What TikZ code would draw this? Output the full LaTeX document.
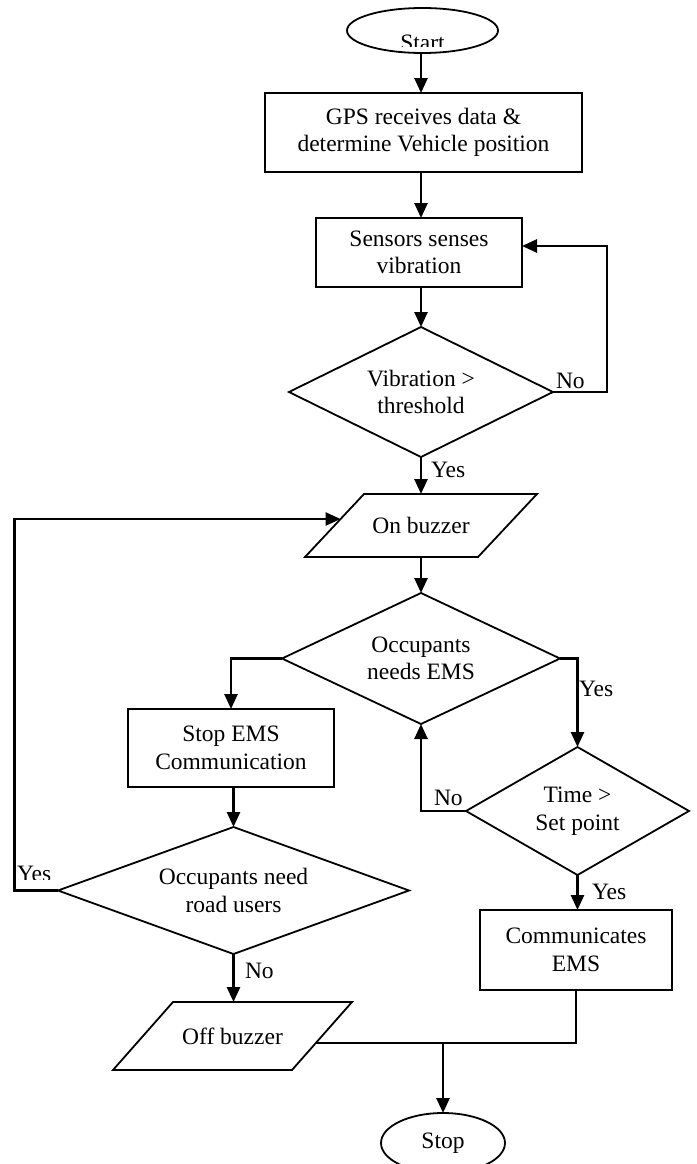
\documentclass[tikz,border=0pt]{standalone}
\usepackage{fontspec}
\setmainfont{Liberation Serif}
\usetikzlibrary{shapes.geometric,arrows.meta,calc}

\begin{document}
\begin{tikzpicture}[x=1pt,y=-1pt,
  every node/.style={font=\fontsize{23.5}{27.5}\selectfont, inner sep=0pt, outer sep=0pt},
  shp/.style={draw, line width=1.8pt, align=center},
  proc/.style={shp, rectangle},
  dec/.style={shp, diamond},
  term/.style={shp, ellipse},
  io/.style={rectangle, align=center},
  iofill/.style={line width=1.8pt, line join=miter},
  edge/.style={line width=1.8pt},
  arr/.style={line width=2.6pt, -{Triangle[length=15pt,width=13pt]}},
  lbl/.style={anchor=base west}
]
\clip (0,0) rectangle (696,1164);

% ---- nodes ----
\node[term, minimum width=151pt, minimum height=45pt] (start) at (422.5,30.5) {};
\begin{scope}
  \clip (330,10) rectangle (520,47);
  \node[anchor=base] (starttxt) at (422.5,50.6) {Start};
\end{scope}

\node[proc, minimum width=317pt, minimum height=79pt] (gps) at (423.5,132.5)
  {GPS receives data \&\\determine Vehicle position};
\node[proc, minimum width=206pt, minimum height=69pt] (sens) at (419,252.5)
  {Sensors senses\\vibration};
\node[dec, shape aspect=2.03, minimum width=264pt, minimum height=130pt] (d1) at (421,392)
  {Vibration >\\threshold};

\node[io, minimum width=173pt, minimum height=63pt] (ob) at (421,525.5) {On buzzer};
\coordinate (obtl) at ($(ob.north west)+(29.5,0)$);
\coordinate (obtr) at ($(ob.north east)+(29.5,0)$);
\coordinate (obbr) at ($(ob.south east)+(-29.5,0)$);
\coordinate (obbl) at ($(ob.south west)+(-29.5,0)$);
\draw[iofill] (obtl) -- (obtr) -- (obbr) -- (obbl) -- cycle;
\coordinate (obin) at ($(obtl)!0.397!(obbl)$);

\node[dec, shape aspect=2.12, minimum width=278pt, minimum height=131pt] (d2) at (421,658.5)
  {Occupants\\needs EMS};
\node[proc, minimum width=206pt, minimum height=78pt] (sems) at (231,748)
  {Stop EMS\\Communication};
\node[dec, shape aspect=2.76, minimum width=351pt, minimum height=127pt] (d3) at (233.5,890.5)
  {Occupants need\\road users};

\node[io, minimum width=179pt, minimum height=68pt] (off) at (232.5,1036) {Off buzzer};
\coordinate (offtl) at ($(off.north west)+(30,0)$);
\coordinate (offtr) at ($(off.north east)+(30,0)$);
\coordinate (offbr) at ($(off.south east)+(-30,0)$);
\coordinate (offbl) at ($(off.south west)+(-30,0)$);
\draw[iofill] (offtl) -- (offtr) -- (offbr) -- (offbl) -- cycle;
\coordinate (offr) at ($(offtr)!0.603!(offbr)$);

\node[dec, shape aspect=1.74, minimum width=223pt, minimum height=128pt] (d4) at (577.5,811)
  {Time >\\Set point};
\node[proc, minimum width=192pt, minimum height=80pt] (comm) at (576,950)
  {Communicates\\EMS};
\node[term, minimum width=124pt, minimum height=60pt] (stop) at (443,1143) {Stop};

% ---- connectors ----
\draw[arr] (start.south -| d1.north) -- (gps.north -| d1.north);
\draw[arr] (gps.south -| d1.north) -- (sens.north -| d1.north);
\draw[arr] (sens.south -| d1.north) -- (d1.north);
\draw[arr] (d1.east) -- ++(54,0) |- ($(sens.east)+(0,-6.5)$);
\node[lbl] (no1) at (556,388) {No};

\draw[arr] (d1.south) -- (ob.north);
\node[lbl] (yes1) at (431,477) {Yes};
\draw[arr] (ob.south) -- (d2.north);

\draw[arr] (d2.west) -| (sems.north);
\draw[arr] (d2.east) -| (d4.north);
\node[lbl] (yes2) at (579,696) {Yes};
\draw[arr] (d4.west) -| (d2.south);
\node[lbl] (no2) at (434,805) {No};
\draw[arr] (d4.south) -- (d4.south |- comm.north);
\node[lbl] (yes3) at (592,899) {Yes};

\draw[arr] (sems.south -| d3.north) -- (d3.north);
\draw[arr] (d3.west) -- ++(-43.5,0) |- (obin);
\begin{scope}
  \clip (10,850) rectangle (100,879);
  \node[lbl] (yes4) at (17,881) {Yes};
\end{scope}
\draw[arr] (d3.south) -- (d3.south |- off.north);
\node[lbl] (no3) at (245,978) {No};

\draw[edge] (comm.south) |- (offr);
\draw[arr] (stop.north |- offr) -- (stop.north);
\end{tikzpicture}
\end{document}
